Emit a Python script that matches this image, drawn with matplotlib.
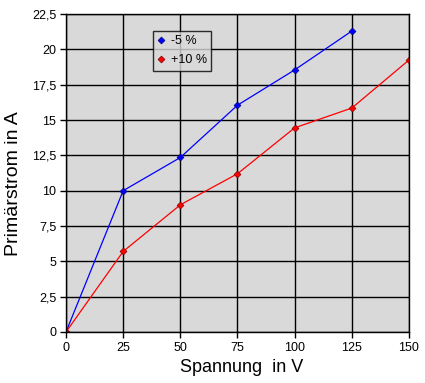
import matplotlib
matplotlib.use("Agg")
import matplotlib.pyplot as plt
from matplotlib.ticker import FuncFormatter

plt.rcParams['font.family'] = ['Liberation Sans', 'DejaVu Sans']

# Messwerte
spannung_a = [0, 25, 50, 75, 100, 125]
strom_a = [0, 10.0, 12.35, 16.05, 18.55, 21.3]
spannung_b = [0, 25, 50, 75, 100, 125, 150]
strom_b = [0, 5.7, 9.0, 11.2, 14.45, 15.85, 19.25]
labels = ["-5 %", "+10 %"]

x_ticks = [0, 25, 50, 75, 100, 125, 150]
y_ticks = [0, 2.5, 5, 7.5, 10, 12.5, 15, 17.5, 20, 22.5]

fig = plt.figure(figsize=(4.25, 3.83), dpi=100)
ax = fig.add_axes([0.1553, 0.1332, 0.807, 0.830])
ax.set_facecolor("#d9d9d9")

ax.plot(spannung_a, strom_a, color="#0000ff", lw=0.9, marker="D",
        ms=3.5, mfc="#0000ff", mec="#000080", mew=0.5, label=labels[0])
ax.plot(spannung_b, strom_b, color="#ff0000", lw=0.9, marker="D",
        ms=3.5, mfc="#ff0000", mec="#800000", mew=0.5, label=labels[1])

ax.set_xlim(0, 150)
ax.set_ylim(0, 22.5)
ax.set_xticks(x_ticks)
ax.set_yticks(y_ticks)
ax.yaxis.set_major_formatter(FuncFormatter(lambda v, p: f"{v:g}".replace(".", ",")))
ax.grid(True, color="black", lw=1)
ax.set_axisbelow(True)
for s in ax.spines.values():
    s.set_color("black")
    s.set_linewidth(1)
ax.tick_params(labelsize=9, length=4, width=1, colors="black", pad=3)

ax.set_xlabel("Spannung  in V", fontsize=13)
ax.xaxis.set_label_coords(0.512, -0.085)
ax.set_ylabel("Primärstrom in A", fontsize=14)
ax.yaxis.set_label_coords(-0.128, 0.467)

leg = ax.legend(loc="upper left", bbox_to_anchor=(0.254, 0.947), fontsize=9,
                frameon=True, fancybox=False, handlelength=0.6,
                handletextpad=0.45, borderpad=0.35, labelspacing=0.55,
                borderaxespad=0)
leg.get_frame().set_edgecolor("black")
leg.get_frame().set_facecolor("#d9d9d9")
leg.get_frame().set_linewidth(1)
for line in leg.get_lines():
    line.set_linestyle("none")

plt.savefig("out.png", dpi=100)
